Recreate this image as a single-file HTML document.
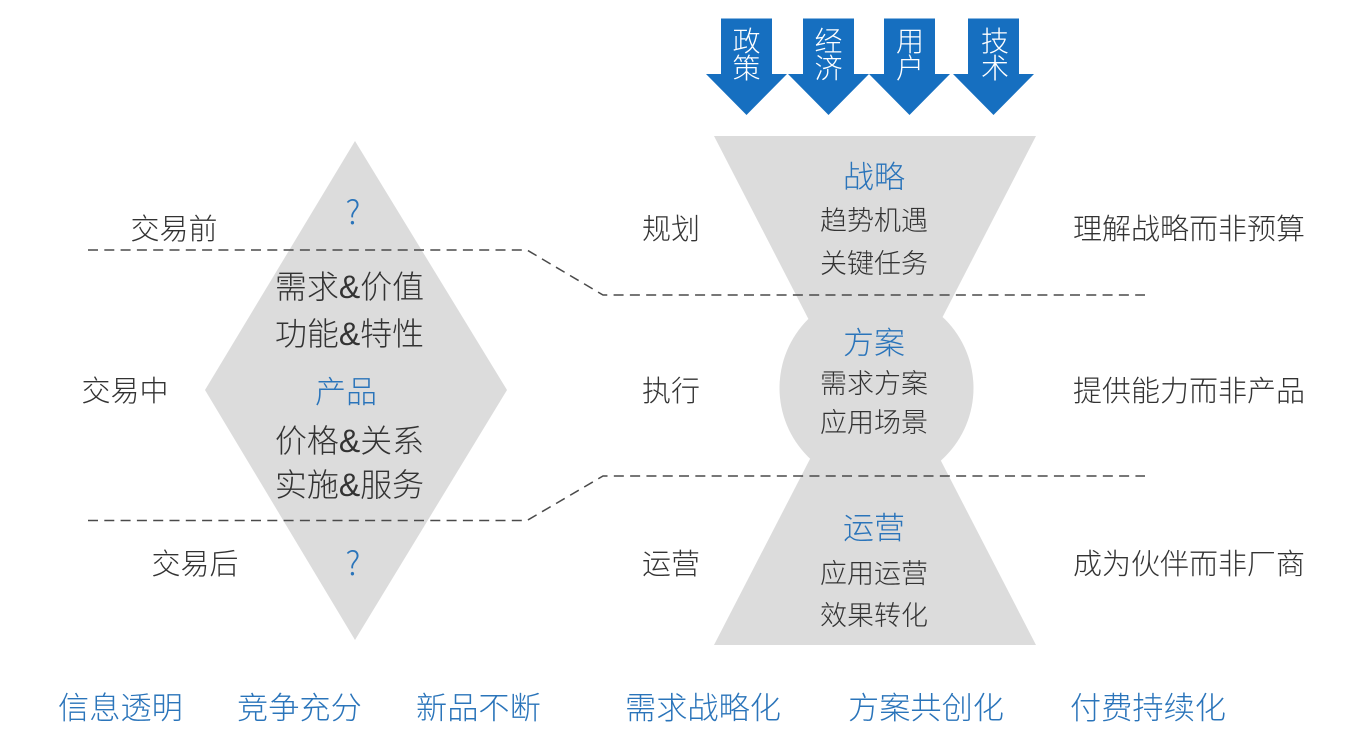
<!DOCTYPE html>
<html><head><meta charset="utf-8">
<style>
html,body{margin:0;padding:0;background:#fff;width:1356px;height:743px;overflow:hidden}
svg{display:block}
text{font-family:"Liberation Sans","Noto Sans CJK SC",sans-serif;font-weight:300;fill:#333}
.b{fill:#2a74ba}
.w{fill:#fff;text-anchor:middle;font-size:28px}
.m{text-anchor:middle}
.q{font-family:"Noto Sans CJK SC",sans-serif;font-size:33px}
</style></head><body>
<svg width="1356" height="743" viewBox="0 0 1356 743" xmlns="http://www.w3.org/2000/svg">
<g fill="#dcdcdc">
<polygon points="355,141 507,390 355,640 205,390"/>
<polygon points="714,136 1036,136 875,448"/>
<polygon points="714,645 1036,645 875,333"/>
<circle cx="876.500" cy="388" r="97"/>
</g>
<g fill="#166fc0">
<polygon points="721,18.500 772,18.500 772,74 787,74 746.500,115 706,74 721,74"/>
<polygon points="803,18.500 854,18.500 854,74 869,74 828.500,115 788,74 803,74"/>
<polygon points="884,18.500 935,18.500 935,74 950,74 909.500,115 869,74 884,74"/>
<polygon points="968,18.500 1019,18.500 1019,74 1034,74 993.500,115 953,74 968,74"/>
</g>
<g fill="none" stroke="#4a4a4a" stroke-width="1.500" stroke-dasharray="10 6.300">
<polyline points="88,250 527,250 603,295 1145,295"/>
<polyline points="88,520.500 527,520.500 603,476 1145,476"/>
</g>
<text class="w" x="746.500" y="51">政</text><text class="w" x="746.500" y="78">策</text>
<text class="w" x="828.500" y="51">经</text><text class="w" x="828.500" y="78">济</text>
<text class="w" x="910" y="51">用</text><text class="w" x="910" y="78">户</text>
<text class="w" x="995" y="51">技</text><text class="w" x="995" y="78">术</text>

<g font-size="29">
<text x="130.500" y="239">交易前</text>
<text x="81.500" y="401">交易中</text>
<text x="151.500" y="574">交易后</text>
<text x="642" y="239">规划</text>
<text x="642" y="401">执行</text>
<text x="642" y="574">运营</text>
<text x="1073" y="239">理解战略而非预算</text>
<text x="1073" y="401">提供能力而非产品</text>
<text x="1073" y="574">成为伙伴而非厂商</text>
</g>

<g font-size="31">
<text class="b m" x="874" y="188">战略</text>
<text class="b m" x="874" y="354">方案</text>
<text class="b m" x="874" y="539">运营</text>
<text class="b m" x="346" y="403">产品</text>
<text class="b m q" x="353" y="224">?</text>
<text class="b m q" x="353" y="575">?</text>
</g>

<g font-size="27">
<text class="m" x="874" y="230">趋势机遇</text>
<text class="m" x="874" y="273">关键任务</text>
<text class="m" x="874" y="393">需求方案</text>
<text class="m" x="874" y="432">应用场景</text>
<text class="m" x="874" y="583">应用运营</text>
<text class="m" x="874" y="625">效果转化</text>
</g>

<g font-size="32">
<text class="m" x="349.500" y="298">需求&amp;价值</text>
<text class="m" x="349.500" y="345">功能&amp;特性</text>
<text class="m" x="349.500" y="452">价格&amp;关系</text>
<text class="m" x="349.500" y="496">实施&amp;服务</text>
</g>

<g font-size="31.200">
<text class="b" x="58" y="719">信息透明</text>
<text class="b" x="237" y="719">竞争充分</text>
<text class="b" x="416" y="719">新品不断</text>
<text class="b" x="625" y="719">需求战略化</text>
<text class="b" x="848" y="719">方案共创化</text>
<text class="b" x="1070" y="719">付费持续化</text>
</g>
</svg>
</body></html>
